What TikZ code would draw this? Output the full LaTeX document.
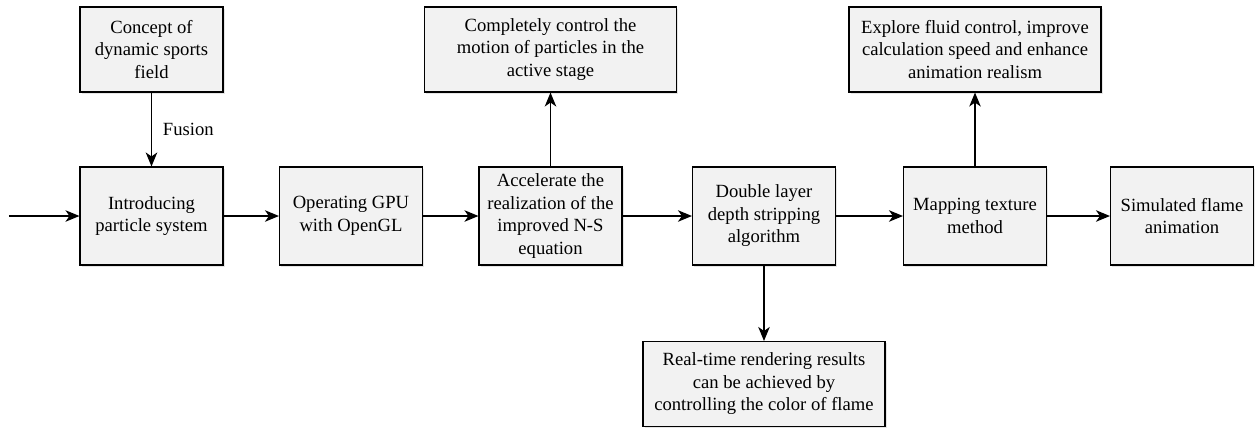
\documentclass[tikz,border=0pt]{standalone}
\usepackage{fontspec}
\setmainfont{Liberation Serif}
\usepackage{tikz}
\usetikzlibrary{positioning,shadows,arrows.meta}

\definecolor{boxfill}{RGB}{242,242,242}

\begin{document}
\begin{tikzpicture}[>={Stealth[length=2.8mm, width=2.3mm, inset=0.8mm]}, node distance=3.33cm]
    \tikzstyle{format} = [draw, line width=0.6pt, rectangle, fill=boxfill, align=center,
	minimum width=2.86cm, minimum height=1.96cm, inner sep=2pt,
	font=\fontsize{10.6}{12.8}\selectfont,
	drop shadow={shadow xshift=1pt, shadow yshift=-1pt, fill=black!20, opacity=0.5}]
    \tikzstyle{wide} = [minimum width=5.04cm, minimum height=1.7cm]

	\useasboundingbox (-3.03,-4.24) rectangle (22.07,4.32);

	\begin{scope}
		\path[->, line width=0.7pt]
			node[format] (I) {Introducing\\particle system}
			node[format, minimum height=1.7cm, above of=I] (C) {Concept of\\dynamic sports\\field}
			node[format, right of=I, node distance=3.99cm] (G) {Operating GPU\\with OpenGL}
			node[format, right of=G, node distance=3.99cm] (A) {Accelerate the\\realization of the\\improved N-S\\equation}
			node[format, wide, above of=A] (M) {Completely control the\\motion of particles in the\\active stage}
			node[format, right of=A, node distance=4.27cm] (D) {Double layer\\depth stripping\\algorithm}
			node[format, wide, minimum width=4.84cm, below of=D, node distance=3.36cm] (R) {Real-time rendering results\\can be achieved by\\controlling the color of flame}
			node[format, right of=D, node distance=4.22cm] (T) {Mapping texture\\method}
			node[format, wide, above of=T] (E) {Explore fluid control, improve\\calculation speed and enhance\\animation realism}
			node[format, right of=T, node distance=4.14cm] (S) {Simulated flame\\animation}

			coordinate (in) at (-2.85,0)

			(in) edge (I)
			(C) edge node[right, xshift=0.1cm, font=\fontsize{10.6}{12.8}\selectfont] {Fusion} (I)
			(I) edge (G)
			(G) edge (A)
			(A) edge (M)
			(A) edge (D)
			(D) edge (R)
			(D) edge (T)
			(T) edge (E)
			(T) edge (S)
		;
	\end{scope}
\end{tikzpicture}
\end{document}
